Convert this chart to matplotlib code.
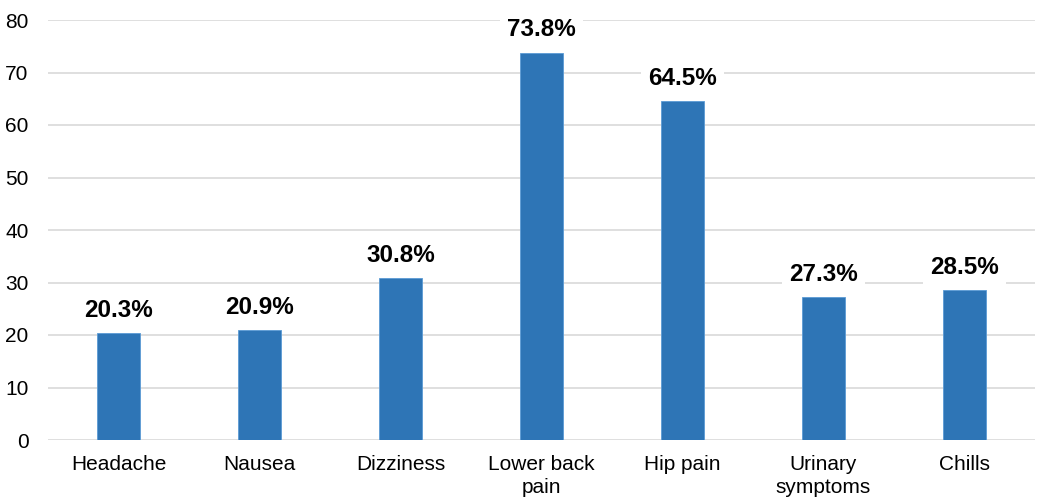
import matplotlib.pyplot as plt

plt.rcParams['font.family'] = ['Liberation Sans', 'DejaVu Sans']

categories = ["Headache", "Nausea", "Dizziness", "Lower back\npain", "Hip pain",
              "Urinary\nsymptoms", "Chills"]
values = [20.3, 20.9, 30.8, 73.8, 64.5, 27.3, 28.5]
yticks = [0, 10, 20, 30, 40, 50, 60, 70, 80]

fig = plt.figure(figsize=(10.38, 5), dpi=100)
ax = fig.add_axes([48 / 1038, 60 / 500, 987 / 1038, 420 / 500])

x = list(range(len(categories)))
ax.bar(x, values, width=0.31, color="#2E75B6", edgecolor="#5B9BD5", linewidth=0.6, zorder=3)

for xi, v in zip(x, values):
    ax.annotate(f"{v:.1f}%", (xi, v), xytext=(0, 8), textcoords="offset points",
                ha="center", va="bottom", fontsize=17.5, fontweight="bold",
                bbox=dict(boxstyle="square,pad=0.3", fc="white", ec="none"), zorder=4)

ax.set_xlim(-0.5, len(categories) - 0.5)
ax.set_ylim(0, 80)
ax.set_yticks(yticks)
ax.set_xticks(x)
ax.set_xticklabels(categories, linespacing=1.25)
ax.yaxis.grid(True, color="#D9D9D9", linewidth=1.2, zorder=0)
ax.set_axisbelow(True)
for s in ax.spines.values():
    s.set_visible(False)
ax.tick_params(axis="both", length=0, labelsize=15)
ax.tick_params(axis="x", pad=11)
ax.tick_params(axis="y", pad=14)

fig.savefig("out.png", dpi=100)
